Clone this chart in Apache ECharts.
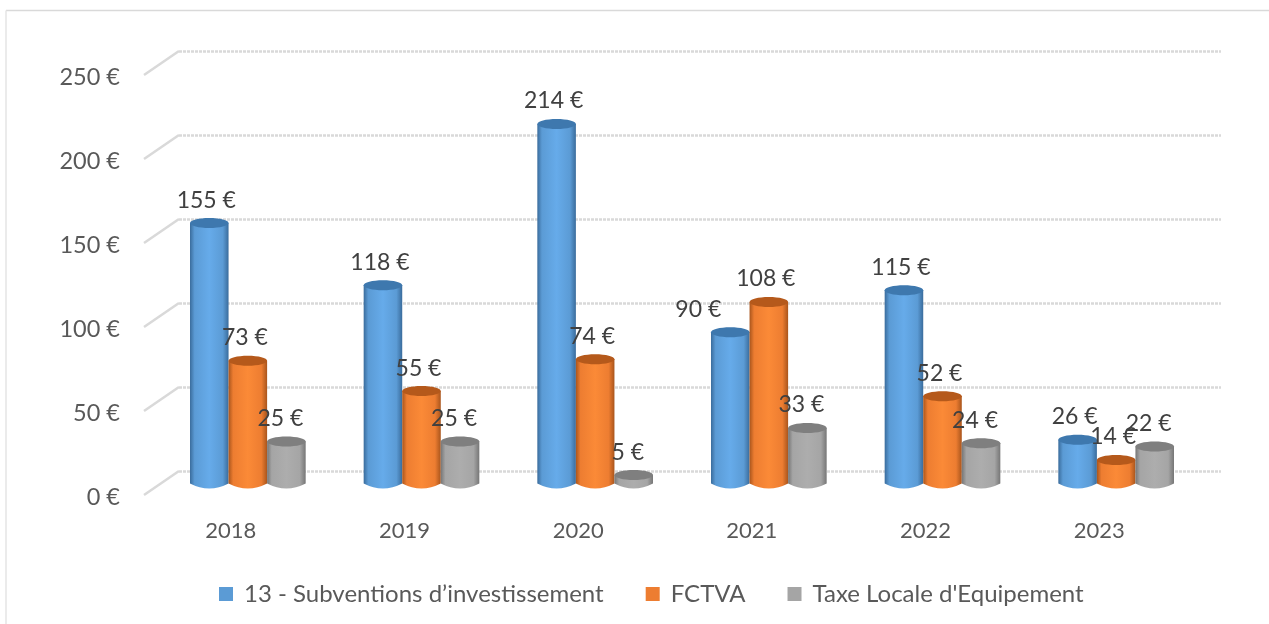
<!DOCTYPE html>
<html><head><meta charset="utf-8">
<style>html,body{margin:0;background:#fff}#c{width:1269px;height:624px}</style>
<script src="https://cdn.jsdelivr.net/npm/echarts@6/dist/echarts.min.js"></script>
</head><body><div id="c"></div>
<script>
const years = ['2018','2019','2020','2021','2022','2023'];
const subventions = [155,118,214,90,115,26];
const fctva = [73,55,74,108,52,14];
const tle = [25,25,5,33,24,22];
const yTicks = [0,50,100,150,200,250];
const seriesNames = ["13 - Subventions d\u2019investissement","FCTVA","Taxe Locale d'Equipement"];
const colors = [
  {base:'#5B9BD5',dark:'#3A6C9C',light:'#66ABEA',top:'#3E78AE'},
  {base:'#ED7D31',dark:'#A9551C',light:'#FB8A37',top:'#B5591B'},
  {base:'#A5A5A5',dark:'#767676',light:'#ADADAD',top:'#7F7F7F'}
];
const font = 'Lato';
const textColor = '#595959';
const depthX = 35, depthY = 24;

function cylinder(idx){
  return function(params, api){
    const c = api.coord([api.value(0), api.value(1)]);
    const base = api.coord([api.value(0), 0]);
    const band = api.size([1,0])[0];
    const w = band * 0.222;
    const cx = c[0] + (idx-1)*w;
    const l = cx - w/2, r = cx + w/2;
    const ry = 5;
    const col = colors[idx];
    const val = api.value(1);
    // the 2021 first label sits left of its bar in the reference
    const nudge = (idx===0 && params.dataIndex===3) ? -32 : (idx===2 ? -6 : -3);
    return {type:'group',children:[
      {type:'path',
       shape:{pathData:`M${l} ${c[1]} L${l} ${base[1]} Q${cx} ${base[1]+ry*2} ${r} ${base[1]} L${r} ${c[1]} Z`},
       style:{fill:new echarts.graphic.LinearGradient(0,0,1,0,[
         {offset:0,color:col.dark},{offset:.12,color:col.base},{offset:.5,color:col.light},
         {offset:.85,color:col.base},{offset:1,color:col.dark}])}},
      {type:'ellipse',shape:{cx:cx,cy:c[1],rx:w/2,ry:ry},style:{fill:col.top}},
      {type:'text',style:{text:val+' \u20ac',x:cx+nudge,y:c[1]-23,align:'center',verticalAlign:'middle',
        font:'23px '+font,fill:'#404040'},z2:10}
    ]};
  };
}
function diagonal(params, api){
  const a = api.coord([0, api.value(0)]);
  const x0 = params.coordSys.x;
  return {type:'line',shape:{x1:x0-depthX,y1:a[1]+depthY,x2:x0,y2:a[1]},
    style:{stroke:'#D9D9D9',lineWidth:2.5}};
}
const makeSeries = (name,vals,idx)=>({
  type:'custom',name:name,xAxisIndex:0,yAxisIndex:0,
  itemStyle:{color:colors[idx].base},
  renderItem:cylinder(idx),encode:{x:0,y:1},z:5,clip:false,
  data:vals.map((v,i)=>[i,v])
});
const chart = echarts.init(document.getElementById('c'));
chart.setOption({
  animation:false,
  backgroundColor:'#fff',
  graphic:[
    {type:'line',shape:{x1:6,y1:10.5,x2:1269,y2:10.5},style:{stroke:'#D9D9D9',lineWidth:1.5},silent:true},
    {type:'line',shape:{x1:6,y1:10.5,x2:6,y2:624},style:{stroke:'#E4E4E4',lineWidth:1.5},silent:true}
  ],
  grid:[
    {left:161,width:1042,top:63.5,height:420},  // bars
    {left:144,width:1042,top:77,height:420},    // front plane: labels
    {left:179,width:1042,top:51,height:420}     // back wall: gridlines
  ],
  xAxis:[
    {type:'category',gridIndex:0,data:years,show:false},
    {type:'category',gridIndex:1,data:years,axisLine:{show:false},axisTick:{show:false},
      axisLabel:{fontFamily:font,fontSize:22,color:textColor,margin:23}},
    {type:'category',gridIndex:2,data:years,show:false}
  ],
  yAxis:[
    {type:'value',gridIndex:0,min:0,max:250,interval:50,show:false},
    {type:'value',gridIndex:1,min:0,max:250,interval:50,axisLine:{show:false},axisTick:{show:false},splitLine:{show:false},
      axisLabel:{fontFamily:font,fontSize:23.5,color:textColor,margin:24,formatter:v=>v+' \u20ac'}},
    {type:'value',gridIndex:2,min:0,max:250,interval:50,axisLine:{show:false},axisTick:{show:false},axisLabel:{show:false},
      splitLine:{show:true,lineStyle:{color:'#D9D9D9',width:2.5,type:[3,1]}}}
  ],
  legend:{data:seriesNames,left:214,top:577,itemWidth:14,itemHeight:14,itemGap:42,icon:'rect',
    textStyle:{fontFamily:font,fontSize:24,color:textColor,padding:[0,0,0,6]}},
  series:[
    {type:'custom',name:'axis depth',xAxisIndex:2,yAxisIndex:2,renderItem:diagonal,encode:{y:0},silent:true,
     data:yTicks.map(v=>[v]),z:1,clip:false},
    makeSeries(seriesNames[0],subventions,0),
    makeSeries(seriesNames[1],fctva,1),
    makeSeries(seriesNames[2],tle,2)
  ]
});
</script></body></html>
